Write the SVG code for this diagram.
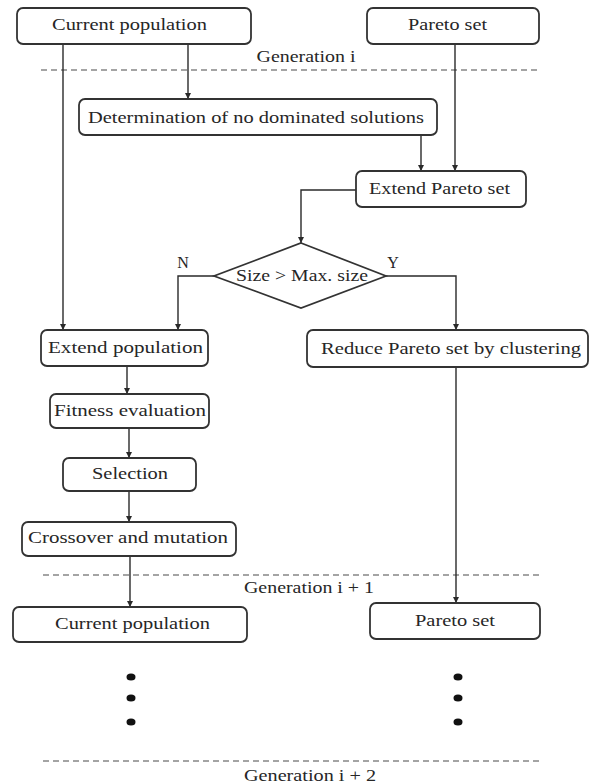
<svg xmlns="http://www.w3.org/2000/svg" width="593" height="784" viewBox="0 0 593 784">
  <style>
    .box { fill: #ffffff; stroke: #333333; stroke-width: 1.8; }
    .dia { fill: #ffffff; stroke: #333333; stroke-width: 1.7; }
    .lbl { font-family: "Liberation Serif", "Times New Roman", serif; font-size: 17px; fill: #262626; text-anchor: middle; }
    .gen { font-family: "Liberation Serif", "Times New Roman", serif; font-size: 16px; fill: #262626; text-anchor: middle; }
    .wire { fill: none; stroke: #2a2a2a; stroke-width: 1.4; }
    .arrow { marker-end: url(#head); }
    .sep { stroke: #4a4a4a; stroke-width: 1.1; stroke-dasharray: 6 4; }
    .dot { fill: #111111; }
  </style>
  <defs>
    <marker id="head" viewBox="0 0 10 10" refX="10" refY="5" markerWidth="7" markerHeight="6" markerUnits="userSpaceOnUse" orient="auto">
      <path d="M0,0 L10,5 L0,10 z" fill="#2a2a2a"/>
    </marker>
  </defs>

  <rect width="593" height="784" fill="#ffffff"/>

  <!-- generation separators -->
  <g id="separators">
    <line class="sep" x1="41" y1="70" x2="539" y2="70"/>
    <text class="gen" x="306" y="62" textLength="99" lengthAdjust="spacingAndGlyphs">Generation i</text>
    <line class="sep" x1="43" y1="575" x2="539" y2="575"/>
    <text class="gen" x="309" y="593" textLength="130" lengthAdjust="spacingAndGlyphs">Generation i + 1</text>
    <line class="sep" x1="43" y1="761" x2="539" y2="761"/>
    <text class="gen" x="310" y="781" textLength="132" lengthAdjust="spacingAndGlyphs">Generation i + 2</text>
  </g>

  <!-- connectors -->
  <g id="connectors">
    <path class="wire arrow" d="M63,44 V330"/>
    <path class="wire arrow" d="M188,44 V99"/>
    <path class="wire arrow" d="M455,44 V171"/>
    <path class="wire arrow" d="M421,135 V171"/>
    <path class="wire arrow" d="M356,190 H301 V243"/>
    <path class="wire arrow" d="M214,276 H178 V330"/>
    <path class="wire arrow" d="M386,276 H456 V330"/>
    <path class="wire arrow" d="M127,366 V394"/>
    <path class="wire arrow" d="M129,428 V458"/>
    <path class="wire arrow" d="M129,491 V522"/>
    <path class="wire arrow" d="M130,556 V607"/>
    <path class="wire arrow" d="M456,367 V603"/>
  </g>

  <g id="current-population">
    <rect class="box" x="17" y="8" width="234" height="36" rx="6"/>
    <text class="lbl" x="129.5" y="30" textLength="155" lengthAdjust="spacingAndGlyphs">Current population</text>
  </g>

  <g id="pareto-set">
    <rect class="box" x="367" y="8" width="172" height="36" rx="6"/>
    <text class="lbl" x="447.5" y="30" textLength="79" lengthAdjust="spacingAndGlyphs">Pareto set</text>
  </g>

  <g id="non-dominated">
    <rect class="box" x="79" y="99" width="358" height="36" rx="6"/>
    <text class="lbl" x="256" y="123" textLength="336" lengthAdjust="spacingAndGlyphs">Determination of no dominated solutions</text>
  </g>

  <g id="extend-pareto">
    <rect class="box" x="356" y="171" width="170" height="36" rx="6"/>
    <text class="lbl" x="439.5" y="194" textLength="141" lengthAdjust="spacingAndGlyphs">Extend Pareto set</text>
  </g>

  <g id="size-check">
    <polygon class="dia" points="301,243 386,276 301,308 214,276"/>
    <text class="lbl" x="302" y="281" textLength="132" lengthAdjust="spacingAndGlyphs">Size &gt; Max. size</text>
    <text class="gen" x="183" y="268">N</text>
    <text class="gen" x="393" y="268">Y</text>
  </g>

  <g id="extend-population">
    <rect class="box" x="41" y="330" width="167" height="36" rx="6"/>
    <text class="lbl" x="125.5" y="353" textLength="155" lengthAdjust="spacingAndGlyphs">Extend population</text>
  </g>

  <g id="reduce-pareto">
    <rect class="box" x="307" y="330" width="281" height="37" rx="6"/>
    <text class="lbl" x="451" y="354" textLength="260" lengthAdjust="spacingAndGlyphs">Reduce Pareto set by clustering</text>
  </g>

  <g id="fitness">
    <rect class="box" x="50" y="394" width="159" height="34" rx="6"/>
    <text class="lbl" x="130" y="416" textLength="152" lengthAdjust="spacingAndGlyphs">Fitness evaluation</text>
  </g>

  <g id="selection">
    <rect class="box" x="63" y="458" width="133" height="33" rx="6"/>
    <text class="lbl" x="130" y="479" textLength="76" lengthAdjust="spacingAndGlyphs">Selection</text>
  </g>

  <g id="crossover">
    <rect class="box" x="22" y="522" width="214" height="34" rx="6"/>
    <text class="lbl" x="128" y="543" textLength="200" lengthAdjust="spacingAndGlyphs">Crossover and mutation</text>
  </g>

  <g id="current-population-next">
    <rect class="box" x="13" y="607" width="234" height="35" rx="6"/>
    <text class="lbl" x="132.5" y="629" textLength="155" lengthAdjust="spacingAndGlyphs">Current population</text>
  </g>

  <g id="pareto-set-next">
    <rect class="box" x="370" y="603" width="170" height="36" rx="6"/>
    <text class="lbl" x="455" y="626" textLength="80" lengthAdjust="spacingAndGlyphs">Pareto set</text>
  </g>

  <!-- continuation marks -->
  <g id="ellipsis">
    <ellipse class="dot" cx="131" cy="677" rx="4.5" ry="3.6"/>
    <ellipse class="dot" cx="131" cy="698" rx="4.5" ry="3.6"/>
    <ellipse class="dot" cx="131" cy="722" rx="4.5" ry="3.6"/>
    <ellipse class="dot" cx="458" cy="677" rx="4.5" ry="3.6"/>
    <ellipse class="dot" cx="458" cy="698" rx="4.5" ry="3.6"/>
    <ellipse class="dot" cx="458" cy="722" rx="4.5" ry="3.6"/>
  </g>
</svg>
